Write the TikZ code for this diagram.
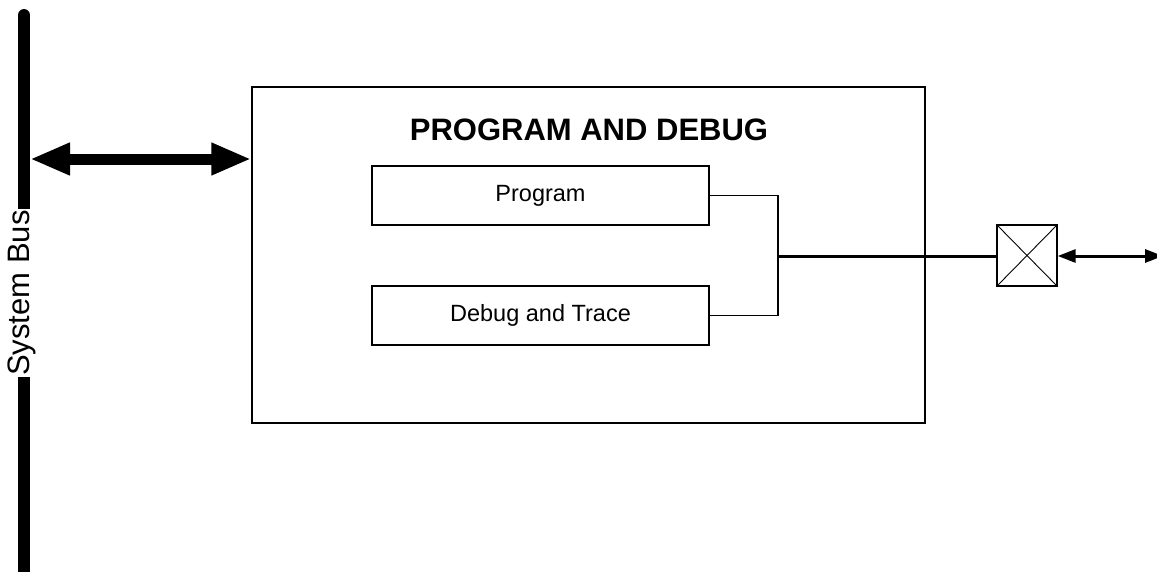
\documentclass[tikz,border=0pt]{standalone}
\usepackage{fontspec}
\setmainfont{Liberation Sans}
\usetikzlibrary{arrows.meta}
\begin{document}
\begin{tikzpicture}[x=1pt,y=-1pt,
  blk/.style={draw,line width=1.4pt,minimum width=337pt,minimum height=59pt,inner sep=0pt,font=\fontsize{23.5}{28}\selectfont},
  bigarrow/.style={line width=11pt,{Triangle[length=40pt,width=30pt]}-{Triangle[length=40pt,width=30pt]}},
  smallarrow/.style={line width=3pt,{Triangle[length=18pt,width=13pt]}-{Triangle[length=18pt,width=13pt]}},
  thinline/.style={line width=1.2pt}]
\useasboundingbox (0,0) rectangle (1157,571);
% system bus
\draw[line width=12pt,line cap=round] (24,15) -- (24,571);
\coordinate (busA) at (30,159);
\node[fill=white,rotate=90,inner sep=1pt,font=\fontsize{31}{36}\selectfont] (buslabel) at (22,293) {System Bus};
% main block
\node[draw,line width=1.5pt,minimum width=673pt,minimum height=336pt,inner sep=0pt] (main) at (588.5,255) {};
\node[font=\bfseries\fontsize{31}{36}\selectfont] (title) at (589,130) {PROGRAM AND DEBUG};
\node[blk] (prog) at (540.5,195.5) {Program};
\node[blk] (dbg) at (540.5,315.5) {Debug and Trace};
% bus arrow
\draw[bigarrow] (busA) -- (main.west |- busA);
% bracket
\coordinate (j) at (778,256);
\draw[thinline] (prog.east) -| (j) |- (dbg.east);
% crossed box
\node[draw,line width=1.4pt,minimum width=60pt,minimum height=61pt,inner sep=0pt] (xb) at (1027,255.5) {};
\draw[line width=0.9pt] (xb.north west) -- (xb.south east);
\draw[line width=0.9pt] (xb.south west) -- (xb.north east);
\draw[line width=3pt] (j) -- (xb.west |- j);
\coordinate (out) at (1163,256);
\draw[smallarrow] (xb.east |- out) -- (out);
\end{tikzpicture}
\end{document}
